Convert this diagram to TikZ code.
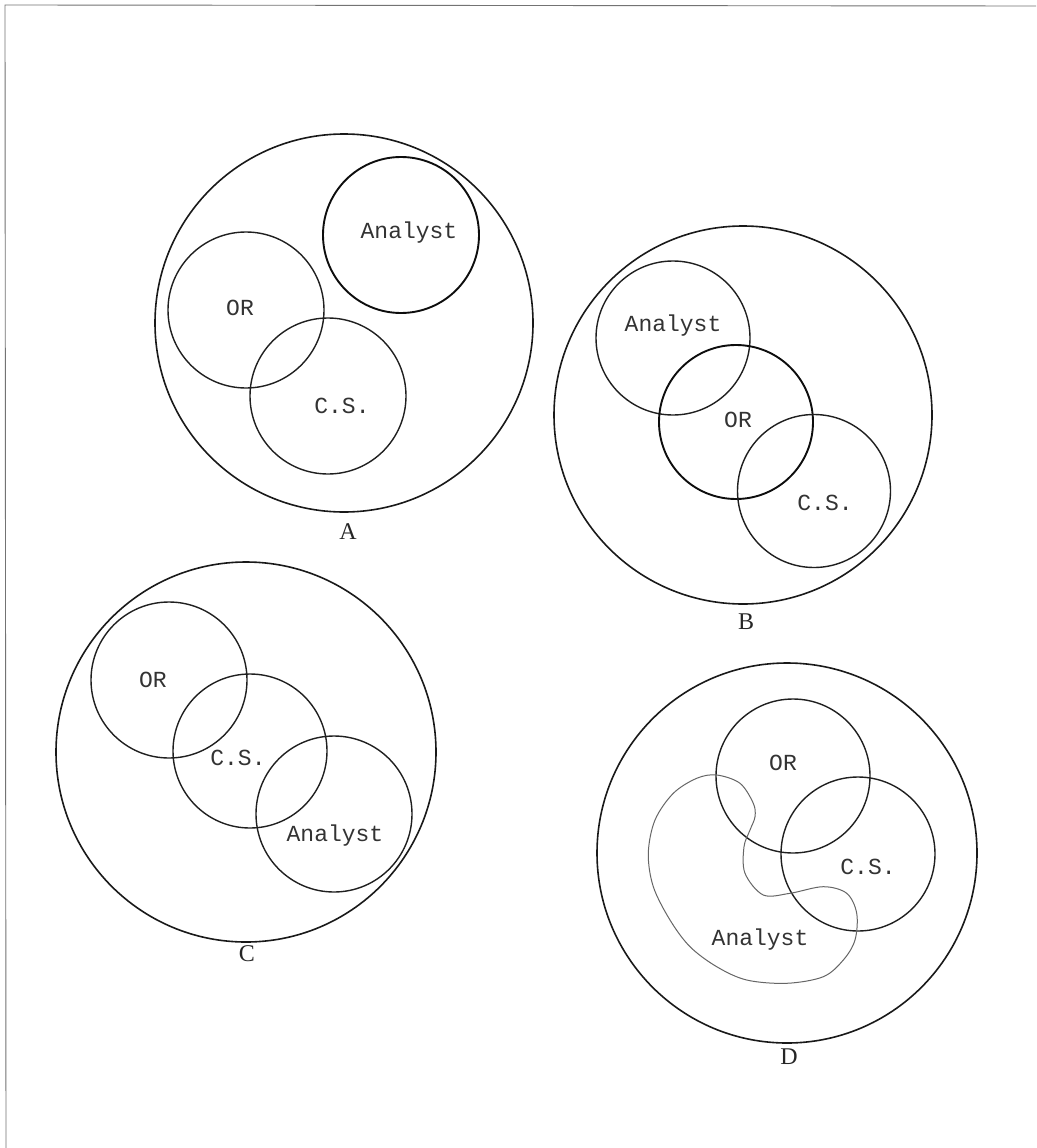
\documentclass[tikz,border=0pt]{standalone}
\usepackage{fontspec}
\newfontfamily\typew{Liberation Mono}
\newfontfamily\labfont{Liberation Serif}
\begin{document}
\begin{tikzpicture}[x=1pt,y=-1pt,
  outer/.style={circle,draw=black!90,line width=1.6pt,inner sep=0pt,minimum size=#1},
  ring/.style={circle,draw=black!88,line width=1.4pt,inner sep=0pt,minimum size=#1},
  boldring/.style={circle,draw=black!95,line width=1.9pt,inner sep=0pt,minimum size=#1},
  tw/.style={font=\typew\fontsize{23}{23}\selectfont,text=black!80,inner sep=0pt},
  lab/.style={font=\labfont\fontsize{24}{24}\selectfont,text=black!85,inner sep=0pt},
  edge/.style={draw=black!55,line width=0.9pt}]
\fill[white] (0,0) rectangle (1036,1148);
\useasboundingbox (0,0) rectangle (1036,1148);
% page edges
\coordinate (tl) at (5,5);
\coordinate (tr) at (1036,6);
\coordinate (bl) at (6,1148);
\draw[edge] (tr) -- (tl) -- (bl);

% ---------- A ----------
\node[outer=378pt] (Aout) at (344,323) {};
\node[boldring=156pt] (Aan) at (401,235) {};
\node[ring=156pt] (Aor) at (246,310) {};
\node[ring=156pt] (Acs) at (328,396) {};
\node[tw] (tAan) at (409,233) {Analyst};
\node[tw] (tAor) at (240,308) {OR};
\node[tw] (tAcs) at (342,406) {C.S.};
\node[lab] (lA) at (348,532) {A};

% ---------- B ----------
\node[outer=378pt] (Bout) at (743,415) {};
\node[ring=154pt] (Ban) at (673,338) {};
\node[boldring=154pt] (Bor) at (736,422) {};
\node[ring=153pt] (Bcs) at (814,491) {};
\node[tw] (tBan) at (673,326) {Analyst};
\node[tw] (tBor) at (738,420) {OR};
\node[tw] (tBcs) at (825,503) {C.S.};
\node[lab] (lB) at (746,622) {B};

% ---------- C ----------
\node[outer=380pt] (Cout) at (246,752) {};
\node[ring=156pt] (Cor) at (169,680) {};
\node[ring=154pt] (Ccs) at (250,751) {};
\node[ring=156pt] (Can) at (334,814) {};
\node[tw] (tCor) at (153,680) {OR};
\node[tw] (tCcs) at (238,758) {C.S.};
\node[tw] (tCan) at (335,836) {Analyst};
\node[lab] (lC) at (247,954) {C};

% ---------- D ----------
\node[outer=380pt] (Dout) at (787,853) {};
\node[ring=154pt] (Dor) at (793,776) {};
\node[ring=154pt] (Dcs) at (858,854) {};
\draw[draw=black!60,line width=1pt] plot[smooth cycle,tension=0.55] coordinates {
  (716.7,775) (740,783.3) (753.3,803.3) (755,816.7) (750,830) (744,846.7)
  (745,873.3) (763.3,895) (790,893.3) (823.3,886.7) (846.7,893.3) (856.7,913.3)
  (855,940) (843.3,960) (823.3,976.7) (786.7,983.3) (746.7,980) (716.7,966.7)
  (690,946.7) (670,920) (653.3,886.7) (648.3,853.3) (655,820) (673.3,793.3)
  (696.7,778.3)};
\node[tw] (tDor) at (783,763) {OR};
\node[tw] (tDcs) at (868,867) {C.S.};
\node[tw] (tDan) at (760,940) {Analyst};
\node[lab] (lD) at (789,1057) {D};
\end{tikzpicture}
\end{document}
